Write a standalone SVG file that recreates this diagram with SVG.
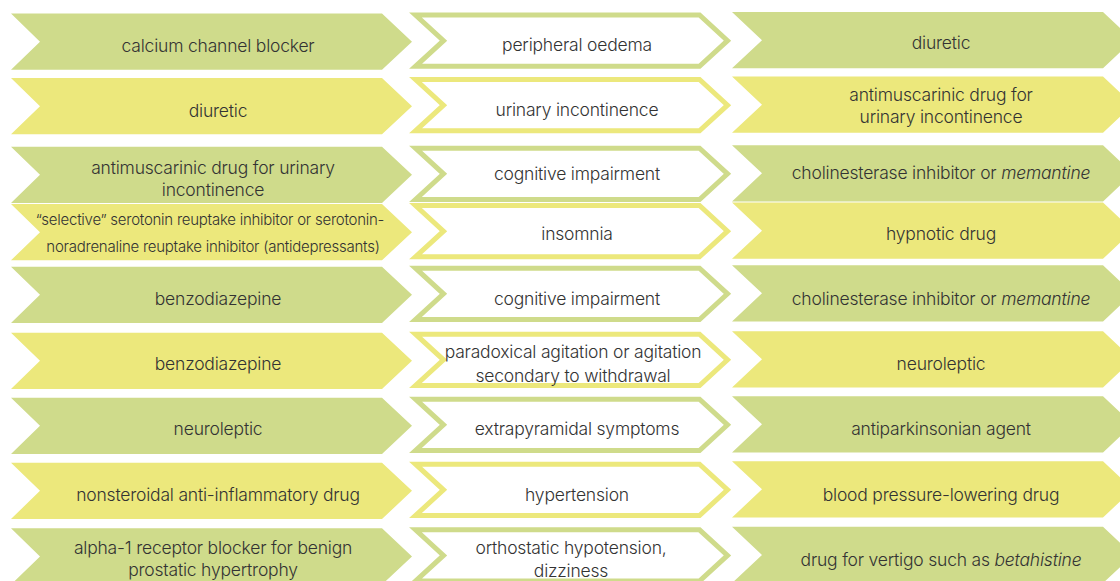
<svg xmlns="http://www.w3.org/2000/svg" xmlns:xlink="http://www.w3.org/1999/xlink" width="1120" height="581" viewBox="0 0 1120 581">
  <style>
    .green { fill: #cfdb8b; }
    .yellow { fill: #ece87c; }
    .out-green { fill: #ffffff; stroke: #cfdb8b; stroke-width: 5; stroke-linejoin: miter; }
    .out-yellow { fill: #ffffff; stroke: #ece87c; stroke-width: 5; stroke-linejoin: miter; }
    text { font-family: Inter, "Liberation Sans", sans-serif; font-size: 17.5px; font-weight: 350; letter-spacing: -0.2px; fill: #333333; text-anchor: middle; }
    .small { font-size: 15px; letter-spacing: -0.25px; }
    .it { font-style: italic; }
  </style>
  <defs>
    <!-- chevron outlines, drawn at row origin (y = 0) -->
    <path id="chev-l" d="M11,0 H382 L412,28.15 L382,56.3 H11 L40,28.15 Z"/>
    <path id="chev-m" d="M415.5,1.5 H699.5 L727.5,27.15 L699.5,52.8 H415.5 L443.5,27.15 Z"/>
    <path id="chev-r" d="M732,-1.5 H1103 L1133,26.65 L1103,54.8 H732 L762,26.65 Z"/>
  </defs>

  <!-- row 1 -->
  <g id="cause-1" transform="translate(0,13.5)">
    <use xlink:href="#chev-l" class="green"/>
    <text x="218" y="38.5">calcium channel blocker</text>
  </g>
  <g id="effect-1" transform="translate(0,13.5)">
    <use xlink:href="#chev-m" class="out-green"/>
    <text x="577" y="37">peripheral oedema</text>
  </g>
  <g id="cascade-1" transform="translate(0,13.5)">
    <use xlink:href="#chev-r" class="green"/>
    <text x="941" y="35.5">diuretic</text>
  </g>

  <!-- row 2 -->
  <g id="cause-2" transform="translate(0,78)">
    <use xlink:href="#chev-l" class="yellow"/>
    <text x="218" y="38.5">diuretic</text>
  </g>
  <g id="effect-2" transform="translate(0,78)">
    <use xlink:href="#chev-m" class="out-yellow"/>
    <text x="577" y="38">urinary incontinence</text>
  </g>
  <g id="cascade-2" transform="translate(0,78)">
    <use xlink:href="#chev-r" class="yellow"/>
    <text x="941" y="22.5">antimuscarinic drug for</text>
    <text x="941" y="45">urinary incontinence</text>
  </g>

  <!-- row 3 -->
  <g id="cause-3" transform="translate(0,146.7)">
    <use xlink:href="#chev-l" class="green"/>
    <text x="213" y="27.8">antimuscarinic drug for urinary</text>
    <text x="213" y="49.3">incontinence</text>
  </g>
  <g id="effect-3" transform="translate(0,146.7)">
    <use xlink:href="#chev-m" class="out-green"/>
    <text x="577" y="33.5">cognitive impairment</text>
  </g>
  <g id="cascade-3" transform="translate(0,146.7)">
    <use xlink:href="#chev-r" class="green"/>
    <text x="941" y="32.5">cholinesterase inhibitor or <tspan class="it">memantine</tspan></text>
  </g>

  <!-- row 4 -->
  <g id="cause-4" transform="translate(0,204)">
    <use xlink:href="#chev-l" class="yellow"/>
    <text class="small" x="210" y="21">“selective” serotonin reuptake inhibitor or serotonin-</text>
    <text class="small" x="213" y="48">noradrenaline reuptake inhibitor (antidepressants)</text>
  </g>
  <g id="effect-4" transform="translate(0,204)">
    <use xlink:href="#chev-m" class="out-yellow"/>
    <text x="577" y="36">insomnia</text>
  </g>
  <g id="cascade-4" transform="translate(0,204)">
    <use xlink:href="#chev-r" class="yellow"/>
    <text x="941" y="35.5">hypnotic drug</text>
  </g>

  <!-- row 5 -->
  <g id="cause-5" transform="translate(0,266.7)">
    <use xlink:href="#chev-l" class="green"/>
    <text x="218" y="38.3">benzodiazepine</text>
  </g>
  <g id="effect-5" transform="translate(0,266.7)">
    <use xlink:href="#chev-m" class="out-green"/>
    <text x="577" y="38.3">cognitive impairment</text>
  </g>
  <g id="cascade-5" transform="translate(0,266.7)">
    <use xlink:href="#chev-r" class="green"/>
    <text x="941" y="38">cholinesterase inhibitor or <tspan class="it">memantine</tspan></text>
  </g>

  <!-- row 6 -->
  <g id="cause-6" transform="translate(0,332.7)">
    <use xlink:href="#chev-l" class="yellow"/>
    <text x="218" y="37.3">benzodiazepine</text>
  </g>
  <g id="effect-6" transform="translate(0,332.7)">
    <use xlink:href="#chev-m" class="out-yellow"/>
    <text x="573" y="25">paradoxical agitation or agitation</text>
    <text x="573" y="49.5">secondary to withdrawal</text>
  </g>
  <g id="cascade-6" transform="translate(0,332.7)">
    <use xlink:href="#chev-r" class="yellow"/>
    <text x="941" y="37">neuroleptic</text>
  </g>

  <!-- row 7 -->
  <g id="cause-7" transform="translate(0,397.7)">
    <use xlink:href="#chev-l" class="green"/>
    <text x="218" y="37.3">neuroleptic</text>
  </g>
  <g id="effect-7" transform="translate(0,397.7)">
    <use xlink:href="#chev-m" class="out-green"/>
    <text x="577" y="37.3">extrapyramidal symptoms</text>
  </g>
  <g id="cascade-7" transform="translate(0,397.7)">
    <use xlink:href="#chev-r" class="green"/>
    <text x="941" y="37">antiparkinsonian agent</text>
  </g>

  <!-- row 8 -->
  <g id="cause-8" transform="translate(0,462.7)">
    <use xlink:href="#chev-l" class="yellow"/>
    <text x="218" y="38.3">nonsteroidal anti-inflammatory drug</text>
  </g>
  <g id="effect-8" transform="translate(0,462.7)">
    <use xlink:href="#chev-m" class="out-yellow"/>
    <text x="577" y="38.3">hypertension</text>
  </g>
  <g id="cascade-8" transform="translate(0,462.7)">
    <use xlink:href="#chev-r" class="yellow"/>
    <text x="941" y="38">blood pressure-lowering drug</text>
  </g>

  <!-- row 9 -->
  <g id="cause-9" transform="translate(0,528.3)">
    <use xlink:href="#chev-l" class="green"/>
    <text x="213" y="25.5">alpha-1 receptor blocker for benign</text>
    <text x="213" y="47.5">prostatic hypertrophy</text>
  </g>
  <g id="effect-9" transform="translate(0,528.3)">
    <use xlink:href="#chev-m" class="out-green"/>
    <text x="571" y="26">orthostatic hypotension,</text>
    <text x="571" y="48.5">dizziness</text>
  </g>
  <g id="cascade-9" transform="translate(0,528.3)">
    <use xlink:href="#chev-r" class="green"/>
    <text x="941" y="37.3">drug for vertigo such as <tspan class="it">betahistine</tspan></text>
  </g>
</svg>
